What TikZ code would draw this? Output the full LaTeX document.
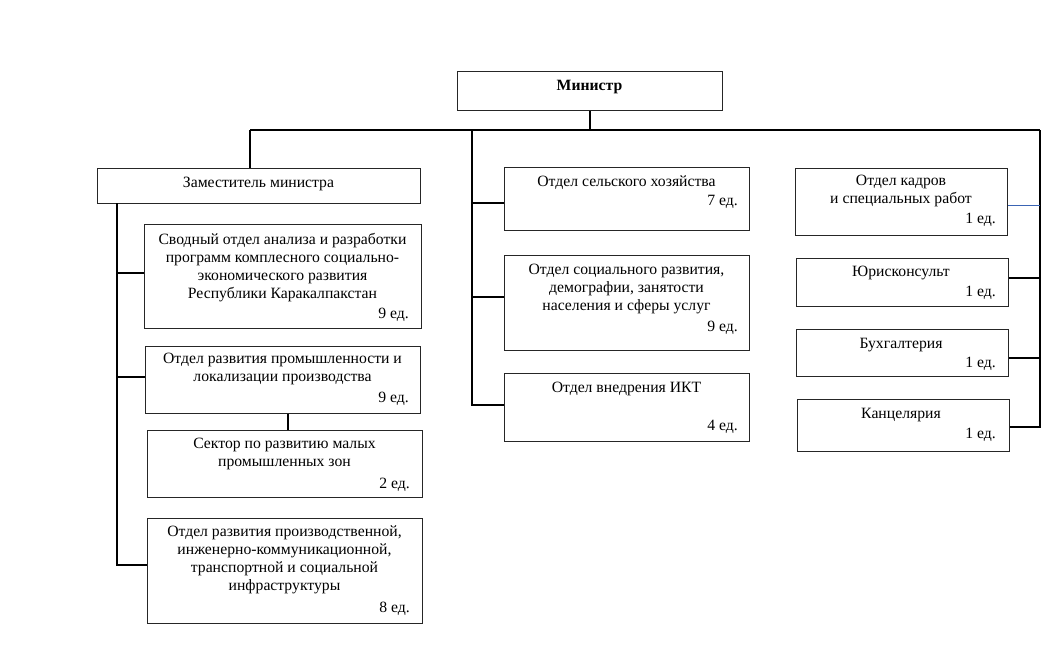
\documentclass[tikz,border=0pt]{standalone}
\usepackage{fontspec}
\setmainfont{Liberation Serif}
\begin{document}
\begin{tikzpicture}[x=1pt,y=-1pt,
  box/.style={draw=black!85,line width=0.9pt,anchor=north west,inner sep=0pt},
  txt/.style={font=\fontsize{15.7}{18}\selectfont,align=center,inner sep=0pt},
  ed/.style={font=\fontsize{15.7}{18}\selectfont,anchor=east,inner sep=0pt},
  conn/.style={line width=1.3pt,black},
  blueconn/.style={line width=0.9pt,draw={rgb,255:red,58;green,100;blue,180}}]
\useasboundingbox[fill=white] (0,0) rectangle (1048,667);
% Minister
\node[box,minimum width=265pt,minimum height=39pt] (min) at (457,71) {};
\node[txt,font=\fontsize{15.7}{18}\selectfont\bfseries] (mint) at (589.5,87) {Министр};
% Deputy
\node[box,minimum width=323pt,minimum height=35pt] (dep) at (97,168) {};
\node[txt] (dept) at (258.5,184) {Заместитель министра};
% Left column
\node[box,minimum width=277pt,minimum height=104pt] (b1) at (144,224) {};
\node[txt,anchor=north] (b1t) at (282.5,233) {Сводный отдел анализа и разработки\\программ комплесного социально-\\экономического развития\\Республики Каракалпакстан};
\node[ed] (b1e) at (409,315) {9 ед.};
\node[box,minimum width=275pt,minimum height=67pt] (b2) at (145,346) {};
\node[txt,anchor=north] (b2t) at (282.5,353) {Отдел развития промышленности и\\локализации производства};
\node[ed] (b2e) at (409,399) {9 ед.};
\node[box,minimum width=275pt,minimum height=67pt] (b3) at (147,430) {};
\node[txt,anchor=north] (b3t) at (284.5,438) {Сектор по развитию малых\\промышленных зон};
\node[ed] (b3e) at (410,485) {2 ед.};
\node[box,minimum width=275pt,minimum height=105pt] (b4) at (147,518) {};
\node[txt,anchor=north] (b4t) at (284.5,526) {Отдел развития производственной,\\инженерно-коммуникационной,\\транспортной и социальной\\инфраструктуры};
\node[ed] (b4e) at (410,609) {8 ед.};
% Middle column
\node[box,minimum width=245pt,minimum height=63pt] (m1) at (504,167) {};
\node[txt] (m1t) at (626.5,183) {Отдел сельского хозяйства};
\node[ed] (m1e) at (738,202) {7 ед.};
\node[box,minimum width=245pt,minimum height=95pt] (m2) at (504,255) {};
\node[txt,anchor=north] (m2t) at (626.5,264) {Отдел социального развития,\\демографии, занятости\\населения и сферы услуг};
\node[ed] (m2e) at (738,328) {9 ед.};
\node[box,minimum width=245pt,minimum height=68pt] (m3) at (504,373) {};
\node[txt] (m3t) at (626.5,389) {Отдел внедрения ИКТ};
\node[ed] (m3e) at (738,427) {4 ед.};
% Right column
\node[box,minimum width=212pt,minimum height=67pt] (r1) at (795,168) {};
\node[txt,anchor=north] (r1t) at (901,175) {Отдел кадров\\и специальных работ};
\node[ed] (r1e) at (996,220) {1 ед.};
\node[box,minimum width=212pt,minimum height=48pt] (r2) at (796,258) {};
\node[txt] (r2t) at (901,273) {Юрисконсульт};
\node[ed] (r2e) at (996,293) {1 ед.};
\node[box,minimum width=212pt,minimum height=47pt] (r3) at (796,329) {};
\node[txt] (r3t) at (901,345) {Бухгалтерия};
\node[ed] (r3e) at (996,364) {1 ед.};
\node[box,minimum width=212pt,minimum height=52pt] (r4) at (797,399) {};
\node[txt] (r4t) at (901,415) {Канцелярия};
\node[ed] (r4e) at (996,435) {1 ед.};
% Bus coordinates
\coordinate (busL) at (250,130);
\coordinate (busM) at (472,130);
\coordinate (busR) at (1040,130);
\coordinate (lv) at (117,203);
% Connectors
\draw[conn] (min) -- (min |- busL);
\draw[conn] (busL) -- (busR);
\draw[conn] (busL) -- (busL |- dep.north);
\draw[conn] (lv) -- (lv |- 0,565) -- (b4.west |- 0,565);
\draw[conn] (lv |- 0,273) -- (b1.west |- 0,273);
\draw[conn] (lv |- 0,377) -- (b2.west |- 0,377);
\draw[conn] (b2.south -| 288,0) -- (b3.north -| 288,0);
\draw[conn] (busM) -- (busM |- 0,405) -- (m3.west |- 0,405);
\draw[conn] (busM |- 0,203) -- (m1.west |- 0,203);
\draw[conn] (busM |- 0,297) -- (m2.west |- 0,297);
\draw[conn] (busR) -- (busR |- 0,427) -- (r4.east |- 0,427);
\draw[blueconn] (r1.east |- 0,205) -- (busR |- 0,205);
\draw[conn] (r2.east |- 0,278) -- (busR |- 0,278);
\draw[conn] (r3.east |- 0,358) -- (busR |- 0,358);
\end{tikzpicture}
\end{document}
